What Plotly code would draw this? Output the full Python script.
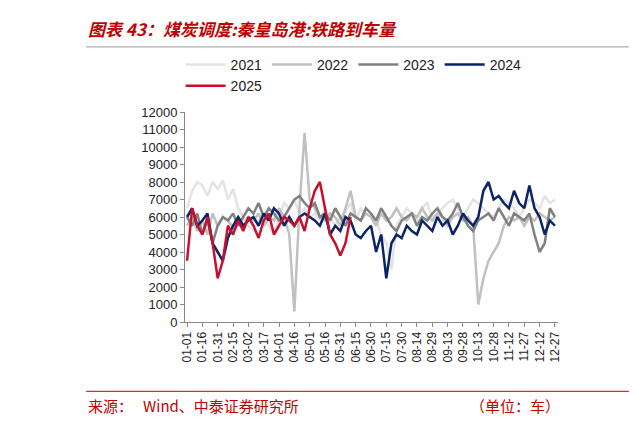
import plotly.graph_objects as go

years = ["2021", "2022", "2023", "2024", "2025"]
colors = ["#e3e3e3", "#c0c0c0", "#808080", "#0b2467", "#c8102e"]

# 5-day samples (unit: carriages)
v2021 = [6500, 7500, 8000, 7800, 7200, 8000, 7600, 8100, 7000, 7600, 6500, 6000, 5500,
         5200, 5800, 6000, 5500, 5000, 6000, 6800, 6500, 7000, 6200, 6500, 6000,
         6200, 5800, 6500, 6000, 5500, 6000, 6300, 6800, 5800, 6500, 6200, 6000,
         5800, 5000, 4500, 3000, 5500, 6000, 6500, 6200, 5800, 6500, 6800, 6000,
         6200, 6500, 6800, 7000, 6500, 6000, 6500, 7000, 6800, 6500, 6200, 6000,
         6500, 7000, 6800, 6500, 6000, 6500, 7000, 6800, 6500, 7200, 6800, 7000]
v2022 = [5500, 6000, 5200, 5800, 5000, 6200, 5500, 6000, 5800, 5400, 6000, 5500,
         6000, 5800, 6200, 5500, 6000, 5800, 6500, 6000, 5000, 600, 6500, 10800,
         7000, 6500, 6000, 5800, 6200, 6000, 5500, 6500, 7500, 6000, 5800, 6200,
         6000, 5500, 6200, 5800, 6000, 6500, 6000, 5800, 6200, 6000, 6500, 6000,
         5800, 6200, 6000, 5500, 6000, 6200, 5800, 6000, 5500, 1000, 2500, 3500,
         4000, 4500, 5500, 6000, 5800, 6000, 5500, 6000, 5800, 6200, 6000, 5800, 6000]
v2023 = [6000, 5500, 6200, 5000, 5800, 4500, 5500, 6000, 5800, 6200, 5500, 6000,
         6500, 6200, 6800, 6000, 6500, 6200, 5800, 6000, 6500, 7000, 7200, 6800,
         6500, 6800, 6000, 6200, 5800, 6500, 6000, 5500, 6200, 6000, 5800, 6500,
         6200, 5800, 6500, 6000, 5500, 5200, 5800, 6000, 6200, 5500, 6000, 5800,
         6200, 6500, 6000, 5800, 6200, 6800, 6000, 5500, 5200, 5800, 6000, 6200,
         5800, 6500, 6000, 5500, 6200, 6000, 5800, 6200, 5000, 4000, 4500, 6500, 6000]
v2024 = [6000, 6500, 5500, 5800, 6200, 4500, 4000, 3500, 4800, 5500, 6000, 5500,
         5800, 6000, 5500, 6200, 5800, 6500, 6200, 5500, 6000, 5500, 6000, 6200,
         6000, 5800, 5500, 6200, 5000, 5500, 5200, 6000, 5800, 5000, 4800, 5200,
         5500, 4000, 5000, 2500, 4500, 5000, 4800, 5500, 5200, 5000, 5800, 5500,
         5200, 6000, 5500, 5800, 5000, 5500, 6200, 5800, 5500, 6000, 7500, 8000,
         7000, 7200, 6800, 6500, 7500, 6800, 6500, 7800, 6500, 6000, 5000, 5800, 5500]
v2025 = [3500, 6500, 5500, 5000, 6000, 4500, 2500, 3500, 5500, 5000, 5800, 5200,
         6000, 5500, 4800, 5800, 6200, 5000, 5500, 6000, 5800, 5500, 6000, 5200,
         6500, 7500, 8000, 6500, 5000, 4500, 3800, 4500, 6000]
series = [v2021, v2022, v2023, v2024, v2025]

tick_labels = ["01-01", "01-16", "01-31", "02-15", "03-02", "03-17", "04-01", "04-16",
               "05-01", "05-16", "05-31", "06-15", "06-30", "07-15", "07-30", "08-14",
               "08-29", "09-13", "09-28", "10-13", "10-28", "11-12", "11-27", "12-12", "12-27"]

fig = go.Figure()
for name, vals, c in zip(years, series, colors):
    fig.add_trace(go.Scatter(x=[i * 5 for i in range(len(vals))], y=vals, name=name,
                             mode="lines", line=dict(color=c, width=2.5)))

fig.update_layout(
    width=640, height=422, plot_bgcolor="white", paper_bgcolor="white",
    margin=dict(l=177, r=90, t=104, b=108, autoexpand=False),
    font=dict(family="Liberation Sans, Arial", size=13, color="#222"),
    legend=dict(orientation="h", xref="container", yref="container", x=0.54, xanchor="center",
                y=0.84, yanchor="middle", font=dict(size=14), itemwidth=40,
                traceorder="normal"),
    xaxis=dict(range=[-2, 363], tickvals=[i * 15 for i in range(len(tick_labels))],
               ticktext=tick_labels, tickangle=-90, tickfont=dict(size=12),
               showgrid=False, showline=True, linecolor="#888", ticks="outside",
               ticklen=4, tickcolor="#888"),
    yaxis=dict(range=[0, 12000], dtick=1000, tickformat="d", showgrid=False, showline=True,
               linecolor="#888", ticks="outside", ticklen=4, tickcolor="#888",
               tickfont=dict(size=13)),
    showlegend=True,
)
fig.add_annotation(text="<b><i>图表 43：煤炭调度:秦皇岛港:铁路到车量</i></b>", xref="paper", yref="paper",
                   x=-0.265, y=1.0, xanchor="left", yanchor="middle", yshift=84, showarrow=False,
                   font=dict(size=17, color="#c00000", family="Noto Sans CJK SC"))
fig.add_annotation(text="来源：   Wind、中泰证券研究所", xref="paper", yref="paper",
                   x=-0.265, y=0, yanchor="middle", xanchor="left", yshift=-83, showarrow=False,
                   font=dict(size=15, color="#c00000", family="Noto Sans CJK SC"))
fig.add_annotation(text="（单位：车）", xref="paper", yref="paper",
                   x=0.76, y=0, yanchor="middle", xanchor="left", yshift=-83, showarrow=False,
                   font=dict(size=15, color="#c00000", family="Noto Sans CJK SC"))
fig.add_shape(type="line", xref="paper", yref="paper", x0=-0.265, x1=1.19, y0=1.31, y1=1.31,
              line=dict(color="#999", width=1))
fig.add_shape(type="line", xref="paper", yref="paper", x0=-0.265, x1=1.19, y0=-0.33, y1=-0.33,
              line=dict(color="#c00000", width=1))

fig.write_html("out.html")
